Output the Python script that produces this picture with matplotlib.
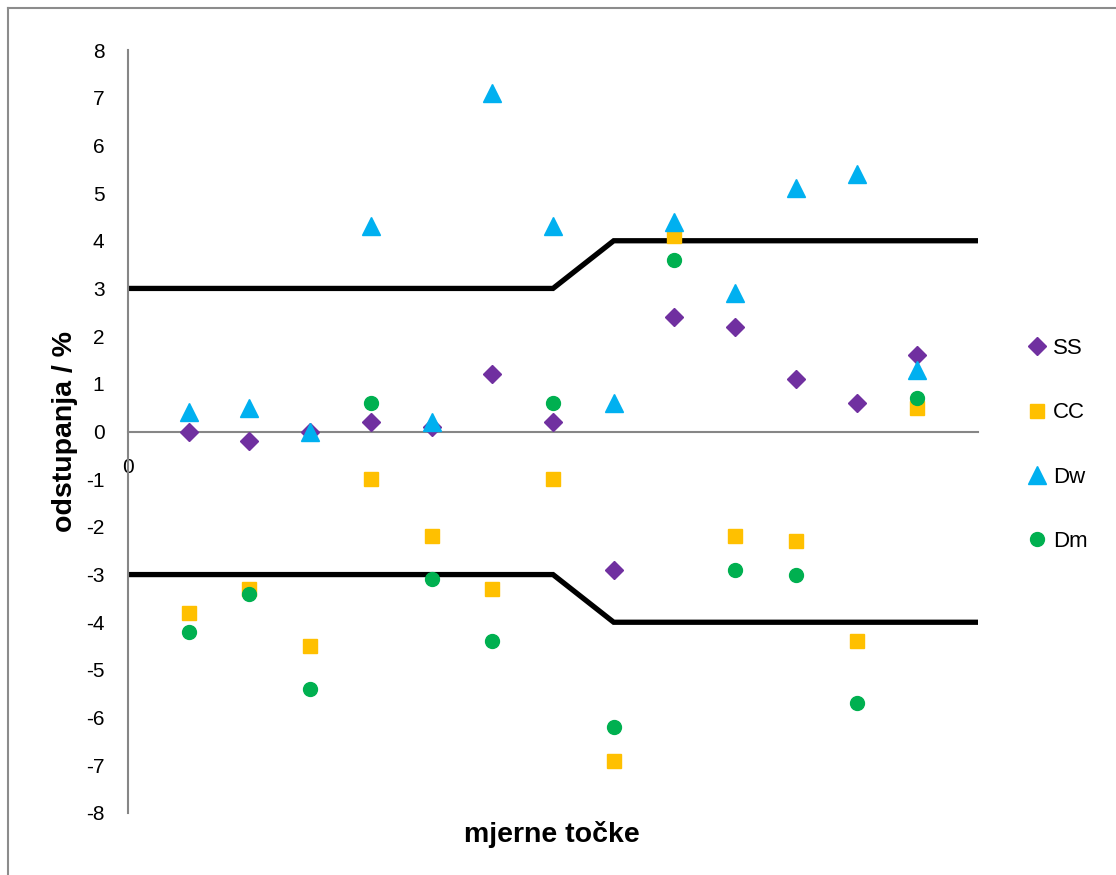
import numpy as np
import matplotlib.pyplot as plt
from matplotlib.lines import Line2D

plt.rcParams['font.family'] = ['Liberation Sans', 'DejaVu Sans']
plt.rcParams['axes.unicode_minus'] = False

# measuring points
points = np.arange(1, 14)

# deviations in %
ss = [0.0, -0.2, 0.0, 0.2, 0.1, 1.2, 0.2, -2.9, 2.4, 2.2, 1.1, 0.6, 1.6]
cc = [-3.8, -3.3, -4.5, -1.0, -2.2, -3.3, -1.0, -6.9, 4.1, -2.2, -2.3, -4.4, 0.5]
dw = [0.4, 0.5, 0.0, 4.3, 0.2, 7.1, 4.3, 0.6, 4.4, 2.9, 5.1, 5.4, 1.3]
dm = [-4.2, -3.4, -5.4, 0.6, -3.1, -4.4, 0.6, -6.2, 3.6, -2.9, -3.0, -5.7, 0.7]

# tolerance limits
limit_x = [0, 7, 8, 14]
limit_upper = [3, 3, 4, 4]
limit_lower = [-3, -3, -4, -4]

fig = plt.figure(figsize=(11.16, 8.75), dpi=100)
ax = fig.add_axes([128 / 1116, 1 - 813 / 875, 850 / 1116, 763 / 875])

ax.plot(limit_x, limit_upper, color='black', lw=3.8, solid_joinstyle='miter', zorder=2)
ax.plot(limit_x, limit_lower, color='black', lw=3.8, solid_joinstyle='miter', zorder=2)

ax.plot(points, ss, 'D', color='#7030A0', ms=9.5, ls='none', label='SS', zorder=3)
ax.plot(points, cc, 's', color='#FFC000', ms=10, ls='none', label='CC', zorder=3)
ax.plot(points, dw, '^', color='#00B0F0', ms=13, ls='none', label='Dw', zorder=4)
ax.plot(points, dm, 'o', color='#00B050', ms=10, ls='none', label='Dm', zorder=4)

ax.set_xlim(0, 14)
ax.set_ylim(-8, 8)
ax.set_yticks(range(-8, 9))
ax.set_xticks([0])
ax.tick_params(axis='y', length=0, pad=17, labelsize=15)
ax.tick_params(axis='x', length=0, pad=19, labelsize=15)

for side in ['top', 'right']:
    ax.spines[side].set_visible(False)
ax.spines['left'].set_color('#868686')
ax.spines['left'].set_linewidth(1.5)
ax.spines['bottom'].set_position(('data', 0))
ax.spines['bottom'].set_color('#868686')
ax.spines['bottom'].set_linewidth(1.5)

fig.text(65 / 1116, 1 - 431 / 875, 'odstupanja / %', rotation=90, ha='center', va='center',
         fontsize=20.5, fontweight='bold')
fig.text(552 / 1116, 1 - 835 / 875, 'mjerne točke', ha='center', va='center',
         fontsize=20.5, fontweight='bold')

fig.legend(loc='center left', bbox_to_anchor=(1026 / 1116, 1 - 445 / 875), frameon=False,
           fontsize=16, labelspacing=1.95, handlelength=1.0, handletextpad=0.2,
           borderpad=0, borderaxespad=0)

# chart area border (top and left only visible)
fig.add_artist(Line2D([8 / 1116, 8 / 1116], [0, 1 - 8 / 875], transform=fig.transFigure,
                      color='#8c8c8c', lw=1.5))
fig.add_artist(Line2D([8 / 1116, 1], [1 - 8 / 875, 1 - 8 / 875], transform=fig.transFigure,
                      color='#8c8c8c', lw=1.5))

fig.savefig('out.png', dpi=100)
